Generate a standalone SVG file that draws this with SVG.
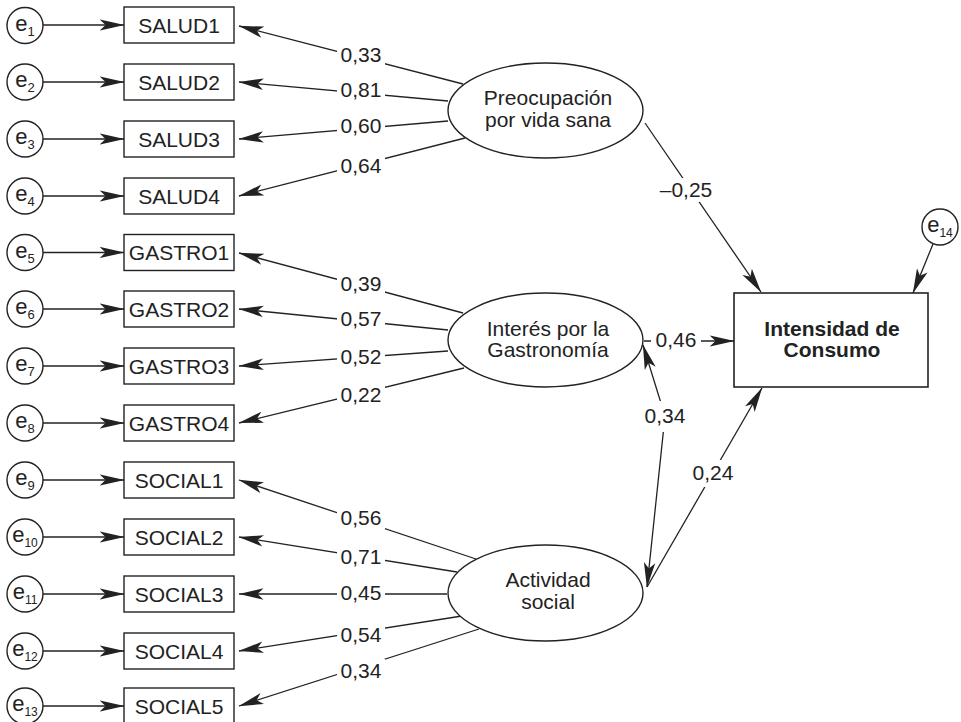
<svg xmlns="http://www.w3.org/2000/svg" width="961" height="722" viewBox="0 0 961 722">
<defs>
<style>
text{font-family:"Liberation Sans",Arial,sans-serif;fill:#222;}
.t{font-size:21px;text-anchor:middle;}
.b{font-weight:bold;}
.e{font-size:22px;text-anchor:middle;}
.s{font-size:13px;}
.s2{font-size:12px;}
.box{fill:#fff;stroke:#222;stroke-width:1.4;}
.ell{fill:#fff;stroke:#222;stroke-width:1.4;}
.c{stroke:#222;stroke-width:1.3;fill:none;marker-end:url(#ah);}
.c2{stroke:#222;stroke-width:1.3;fill:none;marker-end:url(#ah);marker-start:url(#ah);}
.lb{fill:#fff;stroke:none;}
</style>
<marker id="ah" markerUnits="userSpaceOnUse" viewBox="0 0 25 12" markerWidth="25" markerHeight="12" refX="24.5" refY="6" orient="auto-start-reverse">
<path d="M25,6 L0,0.3 L6,6 L0,11.7 Z" fill="#222"/>
</marker>
</defs>
<rect width="961" height="722" fill="#fff"/>

<g id="connectors">
<line class="c" x1="43" y1="25" x2="124" y2="25"/>
<line class="c" x1="43" y1="82" x2="124" y2="82"/>
<line class="c" x1="43" y1="139" x2="124" y2="139"/>
<line class="c" x1="43" y1="196" x2="124" y2="196"/>
<line class="c" x1="43" y1="252.5" x2="124" y2="252.5"/>
<line class="c" x1="43" y1="309" x2="124" y2="309"/>
<line class="c" x1="43" y1="366" x2="124" y2="366"/>
<line class="c" x1="43" y1="423" x2="124" y2="423"/>
<line class="c" x1="43" y1="480" x2="124" y2="480"/>
<line class="c" x1="43" y1="537" x2="124" y2="537"/>
<line class="c" x1="43" y1="594" x2="124" y2="594"/>
<line class="c" x1="43" y1="651" x2="124" y2="651"/>
<line class="c" x1="43" y1="706" x2="124" y2="706"/>
<line class="c" x1="463" y1="84" x2="239" y2="26"/>
<line class="c" x1="448" y1="101" x2="239" y2="82"/>
<line class="c" x1="448" y1="121" x2="239" y2="139"/>
<line class="c" x1="465" y1="138" x2="239" y2="196"/>
<line class="c" x1="463" y1="313" x2="239" y2="253"/>
<line class="c" x1="448" y1="330" x2="239" y2="309"/>
<line class="c" x1="448" y1="351" x2="239" y2="366"/>
<line class="c" x1="464" y1="368" x2="239" y2="423"/>
<line class="c" x1="476" y1="559" x2="239" y2="480"/>
<line class="c" x1="457" y1="572" x2="239" y2="537"/>
<line class="c" x1="447" y1="594" x2="239" y2="594"/>
<line class="c" x1="462" y1="616" x2="239" y2="651"/>
<line class="c" x1="479" y1="629" x2="239" y2="706"/>
<line class="c" x1="645" y1="123" x2="761" y2="292"/>
<line class="c" x1="644" y1="341" x2="734" y2="341"/>
<line class="c" x1="647" y1="587" x2="762" y2="388"/>
<polyline class="c2" points="643,345 665,416 647,587"/>
<line class="c" x1="933" y1="244" x2="913" y2="293"/>
</g>

<g id="labels">
<rect class="lb" x="337" y="43" width="48" height="23"/><text class="t" x="361" y="62">0,33</text>
<rect class="lb" x="337" y="78" width="48" height="23"/><text class="t" x="361" y="97">0,81</text>
<rect class="lb" x="337" y="114" width="48" height="23"/><text class="t" x="361" y="133">0,60</text>
<rect class="lb" x="337" y="154" width="48" height="23"/><text class="t" x="361" y="173">0,64</text>
<rect class="lb" x="337" y="272" width="48" height="23"/><text class="t" x="361" y="291">0,39</text>
<rect class="lb" x="337" y="307" width="48" height="23"/><text class="t" x="361" y="326">0,57</text>
<rect class="lb" x="337" y="345" width="48" height="23"/><text class="t" x="361" y="364">0,52</text>
<rect class="lb" x="337" y="383" width="48" height="23"/><text class="t" x="361" y="402">0,22</text>
<rect class="lb" x="337" y="506" width="48" height="23"/><text class="t" x="361" y="525">0,56</text>
<rect class="lb" x="337" y="545" width="48" height="23"/><text class="t" x="361" y="564">0,71</text>
<rect class="lb" x="337" y="581" width="48" height="23"/><text class="t" x="361" y="600">0,45</text>
<rect class="lb" x="337" y="623" width="48" height="23"/><text class="t" x="361" y="642">0,54</text>
<rect class="lb" x="337" y="659" width="48" height="23"/><text class="t" x="361" y="678">0,34</text>
<rect class="lb" x="657" y="178" width="60" height="24"/><text class="t" x="686" y="197">–0,25</text>
<rect class="lb" x="651" y="330" width="50" height="22"/><text class="t" x="676" y="347">0,46</text>
<rect class="lb" x="643" y="401" width="44" height="31"/><text class="t" x="665" y="423">0,34</text>
<rect class="lb" x="692" y="460" width="44" height="27"/><text class="t" x="713" y="480">0,24</text>
</g>

<g id="e1"><circle class="ell" cx="25" cy="25.5" r="18"/><text class="e" x="25" y="30.5">e<tspan class="s" dy="5">1</tspan></text></g>
<g id="e2"><circle class="ell" cx="25" cy="82" r="18"/><text class="e" x="25" y="87">e<tspan class="s" dy="5">2</tspan></text></g>
<g id="e3"><circle class="ell" cx="25" cy="139" r="18"/><text class="e" x="25" y="144">e<tspan class="s" dy="5">3</tspan></text></g>
<g id="e4"><circle class="ell" cx="25" cy="196" r="18"/><text class="e" x="25" y="201">e<tspan class="s" dy="5">4</tspan></text></g>
<g id="e5"><circle class="ell" cx="25" cy="252.5" r="18"/><text class="e" x="25" y="257.5">e<tspan class="s" dy="5">5</tspan></text></g>
<g id="e6"><circle class="ell" cx="25" cy="309" r="18"/><text class="e" x="25" y="314">e<tspan class="s" dy="5">6</tspan></text></g>
<g id="e7"><circle class="ell" cx="25" cy="366" r="18"/><text class="e" x="25" y="371">e<tspan class="s" dy="5">7</tspan></text></g>
<g id="e8"><circle class="ell" cx="25" cy="423" r="18"/><text class="e" x="25" y="428">e<tspan class="s" dy="5">8</tspan></text></g>
<g id="e9"><circle class="ell" cx="25" cy="480" r="18"/><text class="e" x="25" y="485">e<tspan class="s" dy="5">9</tspan></text></g>
<g id="e10"><circle class="ell" cx="25" cy="537" r="18"/><text class="e" x="25" y="542">e<tspan class="s2" dy="5">10</tspan></text></g>
<g id="e11"><circle class="ell" cx="25" cy="594" r="18"/><text class="e" x="25" y="599">e<tspan class="s2" dy="5">11</tspan></text></g>
<g id="e12"><circle class="ell" cx="25" cy="651" r="18"/><text class="e" x="25" y="656">e<tspan class="s2" dy="5">12</tspan></text></g>
<g id="e13"><circle class="ell" cx="25" cy="706" r="18"/><text class="e" x="25" y="711">e<tspan class="s2" dy="5">13</tspan></text></g>
<g id="e14"><circle class="ell" cx="940" cy="227" r="18"/><text class="e" x="940" y="232">e<tspan class="s2" dy="5">14</tspan></text></g>

<g id="SALUD1"><rect class="box" x="124" y="7" width="110" height="36"/><text class="t" x="179" y="32.5">SALUD1</text></g>
<g id="SALUD2"><rect class="box" x="124" y="64" width="110" height="36"/><text class="t" x="179" y="89.5">SALUD2</text></g>
<g id="SALUD3"><rect class="box" x="124" y="121" width="110" height="36"/><text class="t" x="179" y="146.5">SALUD3</text></g>
<g id="SALUD4"><rect class="box" x="124" y="178" width="110" height="36"/><text class="t" x="179" y="203.5">SALUD4</text></g>
<g id="GASTRO1"><rect class="box" x="124" y="234.5" width="110" height="36"/><text class="t" x="179" y="260">GASTRO1</text></g>
<g id="GASTRO2"><rect class="box" x="124" y="291" width="110" height="36"/><text class="t" x="179" y="316.5">GASTRO2</text></g>
<g id="GASTRO3"><rect class="box" x="124" y="348" width="110" height="36"/><text class="t" x="179" y="373.5">GASTRO3</text></g>
<g id="GASTRO4"><rect class="box" x="124" y="405" width="110" height="36"/><text class="t" x="179" y="430.5">GASTRO4</text></g>
<g id="SOCIAL1"><rect class="box" x="124" y="462" width="110" height="36"/><text class="t" x="179" y="487.5">SOCIAL1</text></g>
<g id="SOCIAL2"><rect class="box" x="124" y="519" width="110" height="36"/><text class="t" x="179" y="544.5">SOCIAL2</text></g>
<g id="SOCIAL3"><rect class="box" x="124" y="576" width="110" height="36"/><text class="t" x="179" y="601.5">SOCIAL3</text></g>
<g id="SOCIAL4"><rect class="box" x="124" y="633" width="110" height="36"/><text class="t" x="179" y="658.5">SOCIAL4</text></g>
<g id="SOCIAL5"><rect class="box" x="124" y="688" width="110" height="36"/><text class="t" x="179" y="713.5">SOCIAL5</text></g>

<g id="preocupacion"><ellipse class="ell" cx="545.5" cy="110.5" rx="97.5" ry="47.5"/><text class="t" x="548" y="105">Preocupación</text><text class="t" x="548" y="127">por vida sana</text></g>
<g id="gastronomia"><ellipse class="ell" cx="545.5" cy="340" rx="97.5" ry="47"/><text class="t" x="548" y="336">Interés por la</text><text class="t" x="548" y="357">Gastronomía</text></g>
<g id="actividad"><ellipse class="ell" cx="545.5" cy="593" rx="97.5" ry="48"/><text class="t" x="548" y="587">Actividad</text><text class="t" x="548" y="609">social</text></g>
<g id="intensidad"><rect class="box" x="734" y="293" width="194" height="94" style="stroke-width:1.6"/><text class="t b" x="832" y="336">Intensidad de</text><text class="t b" x="832" y="357">Consumo</text></g>
</svg>
